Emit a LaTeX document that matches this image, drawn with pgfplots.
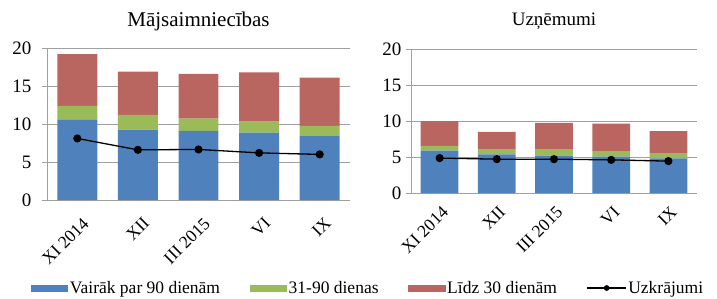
\documentclass[border=0pt]{standalone}
\usepackage{pgfplots}
\pgfplotsset{compat=1.18}
\usepackage{fontspec}
\setmainfont{Liberation Serif}
\definecolor{cblue}{RGB}{79,129,189}
\definecolor{cgreen}{RGB}{155,187,89}
\definecolor{cred}{RGB}{186,102,96}
\definecolor{cgrid}{RGB}{160,160,160}
\pgfplotsset{
  mystyle/.style={
    scale only axis,
    ybar stacked,
    bar width=0.66,
    xmin=-0.5, xmax=4.5,
    ymin=0, ymax=20,
    ytick={0,5,10,15,20},
    xtick={0,1,2,3,4},
    xticklabels={XI 2014,XII,III 2015,VI,IX},
    xtick style={draw=none},
    extra x ticks={-0.5,0.5,1.5,2.5,3.5,4.5},
    extra x tick labels={},
    extra x tick style={grid=none, tick style={draw=cgrid, line width=0.8pt}, major tick length=5pt},
    ytick style={draw=cgrid, line width=0.8pt},
    major tick length=5pt,
    tick align=outside,
    axis lines*=left,
    axis line style={draw=cgrid, line width=0.8pt},
    ymajorgrids,
    grid style={draw=cgrid, line width=0.8pt},
    /pgf/number format/assume math mode=true,
    yticklabel style={font=\rmfamily\fontsize{19}{22}\selectfont},
    xticklabel style={font=\rmfamily\fontsize{17.5}{20}\selectfont, rotate=45, anchor=north east, inner sep=1pt},
    title style={anchor=south},
    clip=false,
  },
  barleg/.style={legend image code/.code={\fill[##1] (0pt,-3.5pt) rectangle (37.6pt,3.5pt);}},
  lineleg/.style={legend image code/.code={\draw[black, line width=1.3pt] (0pt,0pt) -- (39pt,0pt); \fill[black] (19.5pt,0pt) circle (2.6pt);}},
}
\begin{document}
\begin{tikzpicture}
\useasboundingbox (0pt,0pt) rectangle (717pt,-298pt);
\begin{axis}[mystyle,
  at={(47pt,-200pt)}, anchor=south west,
  width=303pt, height=152pt,
  title={Mājsaimniecības},
  title style={font=\rmfamily\fontsize{21}{24}\selectfont, yshift=8pt},
  yticklabel style={xshift=-7pt},
  xticklabel style={xshift=-4pt, yshift=-10pt},
  legend columns=4,
  legend style={at={(-0.054,-0.579)}, anchor=west, draw=none, fill=none,
    font=\rmfamily\fontsize{17.5}{20}\selectfont,
    /tikz/every even column/.append style={column sep=28pt},
    /tikz/every odd column/.append style={column sep=0pt},
    inner sep=0pt, nodes={inner sep=1.5pt}},
]
\addplot[barleg, fill=cblue, draw=none] coordinates {(0,10.56) (1,9.25) (2,9.1) (3,8.85) (4,8.4)};
\addlegendentry{Vairāk par 90 dienām}
\addplot[barleg, fill=cgreen, draw=none] coordinates {(0,1.84) (1,1.95) (2,1.6) (3,1.45) (4,1.35)};
\addlegendentry{31-90 dienas}
\addplot[barleg, fill=cred, draw=none] coordinates {(0,6.8) (1,5.7) (2,5.9) (3,6.5) (4,6.35)};
\addlegendentry{Līdz 30 dienām}
\addlegendimage{lineleg}
\addlegendentry{Uzkrājumi}
\end{axis}
\begin{axis}[
  at={(47pt,-200pt)}, anchor=south west,
  width=303pt, height=152pt, scale only axis,
  xmin=-0.5, xmax=4.5, ymin=0, ymax=20, axis lines=none, clip=false,
]
\addplot[black, line width=1.3pt, mark=*, mark size=3.4pt] coordinates {(0,8.1) (1,6.6) (2,6.65) (3,6.2) (4,6.0)};
\end{axis}
\begin{axis}[mystyle,
  at={(411pt,-193pt)}, anchor=south west,
  width=286pt, height=144pt,
  title={Uzņēmumi},
  title style={font=\rmfamily\fontsize{19}{22}\selectfont, yshift=10pt},
  yticklabel style={xshift=-1pt},
  xticklabel style={xshift=-3pt, yshift=-5pt},
]
\addplot[fill=cblue, draw=none] coordinates {(0,5.9) (1,5.35) (2,5.2) (3,5.07) (4,4.8)};
\addplot[fill=cgreen, draw=none] coordinates {(0,0.65) (1,0.75) (2,0.9) (3,0.73) (4,0.75)};
\addplot[fill=cred, draw=none] coordinates {(0,3.42) (1,2.4) (2,3.65) (3,3.85) (4,3.05)};
\end{axis}
\begin{axis}[
  at={(411pt,-193pt)}, anchor=south west,
  width=286pt, height=144pt, scale only axis,
  xmin=-0.5, xmax=4.5, ymin=0, ymax=20, axis lines=none, clip=false,
]
\addplot[black, line width=1.3pt, mark=*, mark size=3.4pt] coordinates {(0,4.85) (1,4.7) (2,4.7) (3,4.6) (4,4.43)};
\end{axis}
\end{tikzpicture}
\end{document}
